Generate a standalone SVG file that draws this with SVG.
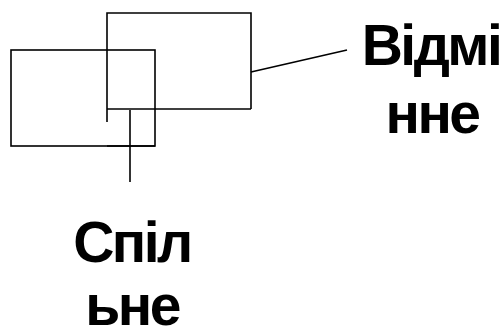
<svg xmlns="http://www.w3.org/2000/svg" width="502" height="328" viewBox="0 0 502 328">
<style>
.s{fill:none;stroke:#000;stroke-width:1.6}
.t{font-family:"Liberation Sans",Arial,sans-serif;font-weight:bold;font-size:57px;letter-spacing:-2.5px;fill:#000;text-anchor:middle}
</style>
<rect width="502" height="328" fill="#fff"/>
<g id="left-rect"><rect class="s" x="11" y="50" width="144" height="96"/></g>
<g id="right-rect"><path class="s" d="M107,122 V13 H251 V109"/><path class="s" d="M251,109 H107" stroke="#444"/></g>
<g id="connectors">
<path class="s" d="M107,146 H155" stroke-width="2.2"/>
<path class="s" d="M130,110 V182" stroke="#222"/>
<path class="s" d="M251,72 L347,50"/>
</g>
<g id="label-vidminne">
<text class="t" x="431" y="65">Відмі</text>
<text class="t" x="432" y="133">нне</text>
</g>
<g id="label-spilne">
<text class="t" x="132" y="262">Спіл</text>
<text class="t" x="132" y="325">ьне</text>
</g>
</svg>
